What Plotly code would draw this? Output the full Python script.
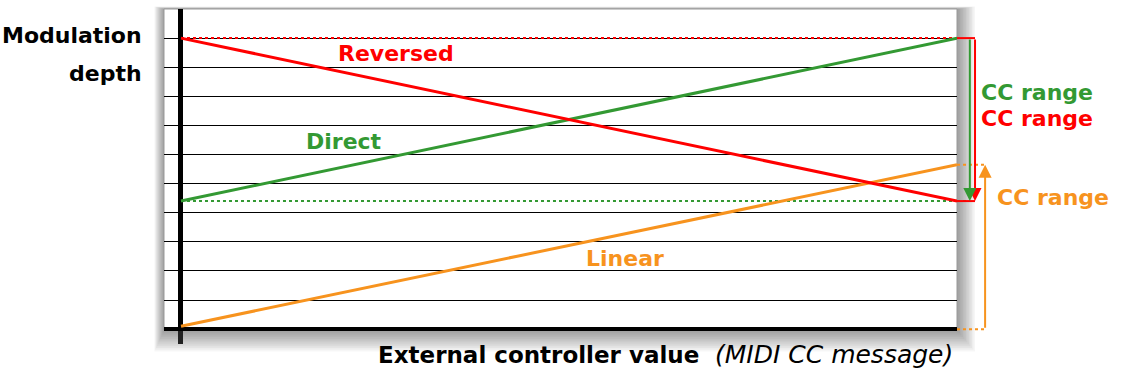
import plotly.graph_objects as go

# ---------------- data ----------------
cc_values = [0, 127]                 # external controller value (MIDI CC)
reversed_depth = [10.0, 4.4]
direct_depth = [4.4, 10.0]
linear_depth = [0.1, 5.65]
range_top = 10.0                     # top of Direct/Reversed range
range_bottom = 4.4                   # bottom of Direct/Reversed range
linear_top = 5.65
linear_bottom = 0.0
grid_levels = list(range(0, 11))

# ---------------- style ----------------
RED = "#ff0000"
GREEN = "#339933"
ORANGE = "#f7931e"
FONT = "DejaVu Sans"

W, H = 1121, 382
ML, MR, MT, MB = 164, 164, 9, 52
XMIN, XMAX = -2.78, 127.0
YMIN, YMAX = -0.03, 11.0
PLOT_H = H - MT - MB

# positions of the range markers just right of the box (in CC units)
x_green_arrow = 129.1
x_red_arrow = 129.95
x_orange_arrow = 131.6


def xp(x):
    return (x - XMIN) / (XMAX - XMIN)


def yp(y):
    return (y - YMIN) / (YMAX - YMIN)


def px2paper(px, py):
    return (px - ML) / (W - ML - MR), (H - MB - py) / (H - MT - MB)


fig = go.Figure()

# dotted guides
fig.add_trace(go.Scatter(x=cc_values, y=[range_top, range_top], mode="lines",
                         line=dict(color=RED, width=2, dash="dot"), hoverinfo="skip"))
fig.add_trace(go.Scatter(x=cc_values, y=[range_bottom, range_bottom], mode="lines",
                         line=dict(color=GREEN, width=2, dash="dot"), hoverinfo="skip"))

# main lines
fig.add_trace(go.Scatter(x=cc_values, y=linear_depth, mode="lines",
                         line=dict(color=ORANGE, width=3), name="Linear"))
fig.add_trace(go.Scatter(x=cc_values, y=direct_depth, mode="lines",
                         line=dict(color=GREEN, width=3), name="Direct"))
fig.add_trace(go.Scatter(x=cc_values, y=reversed_depth, mode="lines",
                         line=dict(color=RED, width=3), name="Reversed"))

shapes = []
# drop shadow of the chart box
N = 12
for k in range(1, N + 1):
    a, _ = px2paper(ML - k * 0.8, 0)
    b, _ = px2paper(W - MR + k * 1.5, 0)
    _, t = px2paper(0, MT - k * 0.2)
    _, bt = px2paper(0, H - MB + k * 1.8)
    shapes.append(dict(type="rect", xref="paper", yref="paper", x0=a, x1=b, y0=bt, y1=t,
                       fillcolor="black", opacity=0.035, line=dict(width=0), layer="below"))
# white chart box
shapes.append(dict(type="rect", xref="paper", yref="paper", x0=0, x1=1, y0=0, y1=1,
                   fillcolor="white", line=dict(color="#999999", width=1), layer="below"))

# extensions outside the box
def hseg(x0, x1, y, color, dash=None, width=2):
    line = dict(color=color, width=width)
    if dash:
        line["dash"] = dash
    shapes.append(dict(type="line", xref="paper", yref="paper", x0=xp(x0), x1=xp(x1),
                       y0=yp(y), y1=yp(y), line=line, layer="above"))

hseg(cc_values[1], x_green_arrow, range_bottom, GREEN, "dot")
hseg(cc_values[1], x_red_arrow, range_top, RED)
hseg(cc_values[1], x_red_arrow, range_bottom, RED)
hseg(cc_values[1], x_orange_arrow, linear_top, ORANGE, "dot")
hseg(cc_values[1], x_orange_arrow, linear_bottom, ORANGE, "dot")

annotations = []
# range arrows (head at y_to, tail at y_from)
for xa, y_from, y_to, col in [(x_red_arrow, range_top, range_bottom, RED),
                              (x_green_arrow, range_top, range_bottom, GREEN),
                              (x_orange_arrow, linear_bottom, linear_top, ORANGE)]:
    annotations.append(dict(x=xp(xa), y=yp(y_to), xref="paper", yref="paper",
                            axref="pixel", ayref="pixel", ax=0,
                            ay=-(yp(y_from) - yp(y_to)) * PLOT_H,
                            showarrow=True, arrowhead=2, arrowsize=1.3, arrowwidth=2,
                            arrowcolor=col, text=""))


def label(text, px, py, color, size=22, xanchor="center", bold=True, italic=False):
    x, y = px2paper(px, py)
    t = f"<b>{text}</b>" if bold else text
    if italic:
        t = f"<i>{t}</i>"
    annotations.append(dict(text=t, x=x, y=y, xref="paper", yref="paper", showarrow=False,
                            xanchor=xanchor, yanchor="middle",
                            font=dict(family=FONT, size=size, color=color)))


label("Modulation", 144, 35, "black", xanchor="right")
label("depth", 144, 73, "black", xanchor="right")
label("Reversed", 396, 53, RED)
label("Direct", 344, 141, GREEN)
label("Linear", 625, 258, ORANGE)
label("CC range", 1037, 92, GREEN)
label("CC range", 1037, 118, RED)
label("CC range", 1053, 197, ORANGE)
label("External controller value", 376, 355, "black", size=23, xanchor="left")
label("(MIDI CC message)", 713, 355, "black", size=25, xanchor="left", bold=False, italic=True)

fig.update_layout(
    width=W, height=H,
    margin=dict(l=ML, r=MR, t=MT, b=MB, pad=0),
    paper_bgcolor="white", plot_bgcolor="rgba(0,0,0,0)",
    showlegend=False,
    shapes=shapes, annotations=annotations,
    xaxis=dict(range=[XMIN, XMAX], showgrid=False, zeroline=True, zerolinecolor="black",
               zerolinewidth=5, showline=False, ticks="outside", tickvals=[0],
               ticklen=13, tickwidth=5, tickcolor="#222222", showticklabels=False,
               fixedrange=True),
    yaxis=dict(range=[YMIN, YMAX], showgrid=True, gridcolor="black", gridwidth=1,
               tickvals=grid_levels, zeroline=True, zerolinecolor="black", zerolinewidth=4,
               showline=False, ticks="", showticklabels=False, fixedrange=True),
)

fig.write_html("out.html")
